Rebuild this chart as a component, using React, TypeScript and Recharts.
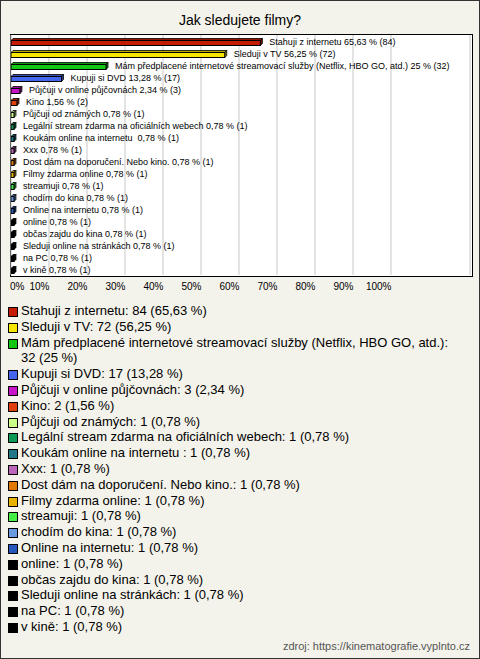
import React from 'react';
import { BarChart, Bar, XAxis, YAxis, CartesianGrid, LabelList } from 'recharts';

const categories = [
  'Stahuji z internetu',
  'Sleduji v TV',
  'Mám předplacené internetové streamovací služby (Netflix, HBO GO, atd.)',
  'Kupuji si DVD',
  'Půjčuji v online půjčovnách',
  'Kino',
  'Půjčuji od známých',
  'Legální stream zdarma na oficiálních webech',
  'Koukám online na internetu ',
  'Xxx',
  'Dost dám na doporučení. Nebo kino.',
  'Filmy zdarma online',
  'streamuji',
  'chodím do kina',
  'Online na internetu',
  'online',
  'občas zajdu do kina',
  'Sleduji online na stránkách',
  'na PC',
  'v kině',
];

const counts = [84, 72, 32, 17, 3, 2, 1, 1, 1, 1, 1, 1, 1, 1, 1, 1, 1, 1, 1, 1];

const percents = [
  65.63, 56.25, 25, 13.28, 2.34, 1.56, 0.78, 0.78, 0.78, 0.78,
  0.78, 0.78, 0.78, 0.78, 0.78, 0.78, 0.78, 0.78, 0.78, 0.78,
];

const colors = [
  '#c41c04', '#f6e600', '#12c812', '#4466ee', '#c814c8', '#e0400e',
  '#ccff88', '#109858', '#207888', '#bb66bb', '#e07808', '#e8b400',
  '#44ee44', '#6c9ae0', '#2656bc', '#000000', '#000000', '#000000',
  '#000000', '#000000',
];

const xTicks = [0, 10, 20, 30, 40, 50, 60, 70, 80, 90, 100];

const fmt = (v: number) => String(v).replace('.', ',');

const data = categories.map((name, i) => ({
  name,
  pct: percents[i],
  count: counts[i],
  color: colors[i],
}));

const FONT = '"Liberation Sans", Arial, sans-serif';

function darken(hex: string, f: number) {
  const n = parseInt(hex.slice(1), 16);
  const r = Math.round(((n >> 16) & 255) * f);
  const g = Math.round(((n >> 8) & 255) * f);
  const b = Math.round((n & 255) * f);
  return `rgb(${r},${g},${b})`;
}

function Bar3D(props: any) {
  const { x, y, width, height, payload } = props;
  const cy = y + height / 2;
  const w = Math.max(width, 1);
  const c = payload.color;
  const top = cy - 3;
  const front = cy - 1;
  return (
    <g>
      <polygon
        points={`${x},${front} ${x + 2},${top} ${x + w + 2},${top} ${x + w},${front}`}
        fill={darken(c, 0.75)}
        stroke="#000"
        strokeWidth={0.8}
      />
      <polygon
        points={`${x + w},${front} ${x + w + 2},${top} ${x + w + 2},${top + 5} ${x + w},${front + 5}`}
        fill={darken(c, 0.6)}
        stroke="#000"
        strokeWidth={0.8}
      />
      <rect x={x} y={front} width={w} height={5} fill={c} stroke="#000" strokeWidth={1} />
    </g>
  );
}

function ValueLabel(props: any) {
  const { x, y, width, height, index } = props;
  const d = data[index];
  return (
    <text
      x={x + width + 9}
      y={y + height / 2 + 0.5}
      fontSize={9}
      fontFamily={FONT}
      fill="#000"
      dominantBaseline="central"
      style={{ whiteSpace: 'pre' }}
    >
      {`${d.name} ${fmt(d.pct)} % (${d.count})`}
    </text>
  );
}

function Tick(props: any) {
  const { x, y, payload } = props;
  const v = payload.value;
  return (
    <text
      x={v === 0 ? x - 1 : x + 0.5}
      y={y + 7}
      textAnchor={v === 0 ? 'start' : 'end'}
      fontSize={10}
      fontFamily={FONT}
      fill="#000"
    >
      {`${v}%`}
    </text>
  );
}

export default function App() {
  return (
    <div
      style={{
        position: 'absolute',
        left: 0,
        top: 0,
        width: 480,
        height: 659,
        boxSizing: 'border-box',
        border: '1px solid #333',
        background: '#f4f3eb',
        fontFamily: FONT,
        overflow: 'hidden',
      }}
    >
      <div
        style={{
          position: 'absolute',
          left: 0,
          top: 11,
          width: 478,
          textAlign: 'center',
          fontSize: 14,
          color: '#000',
        }}
      >
        Jak sledujete filmy?
      </div>
      <div
        style={{
          position: 'absolute',
          left: 9,
          top: 33,
          width: 461,
          height: 241,
          border: '1px solid #000',
          background: '#fff',
        }}
      />
      <div style={{ position: 'absolute', left: -1, top: -1 }}>
        <BarChart
          width={480}
          height={300}
          data={data}
          layout="vertical"
          margin={{ top: 35, right: 10, bottom: 0, left: 11 }}
          barCategoryGap={0}
        >
          <CartesianGrid horizontal={false} stroke="#c8c8c8" />
          <XAxis
            type="number"
            dataKey="pct"
            domain={[0, 120.8]}
            ticks={xTicks}
            allowDataOverflow
            axisLine={false}
            tickLine={false}
            height={25}
            tick={<Tick />}
            interval={0}
          />
          <YAxis type="category" dataKey="name" hide />
          <Bar dataKey="pct" barSize={5} shape={<Bar3D />} isAnimationActive={false}>
            <LabelList dataKey="pct" content={<ValueLabel />} />
          </Bar>
        </BarChart>
      </div>
      <div
        style={{
          position: 'absolute',
          left: 7,
          top: 302,
          width: 458,
          fontSize: 13,
          lineHeight: '15.8px',
          color: '#000',
        }}
      >
        {data.map((d) => (
          <div key={d.name} style={{ display: 'flex', alignItems: 'flex-start' }}>
            <span
              style={{
                display: 'inline-block',
                flex: 'none',
                width: 8,
                height: 8,
                marginTop: 4,
                marginRight: 3,
                border: '1px solid #000',
                background: d.color,
              }}
            />
            <span style={{ whiteSpace: 'pre-wrap' }}>{`${d.name}: ${d.count} (${fmt(d.pct)} %)`}</span>
          </div>
        ))}
      </div>
      <div
        style={{
          position: 'absolute',
          right: 9,
          top: 639,
          fontSize: 11,
          color: '#555',
        }}
      >
        zdroj: https://kinematografie.vyplnto.cz
      </div>
    </div>
  );
}
